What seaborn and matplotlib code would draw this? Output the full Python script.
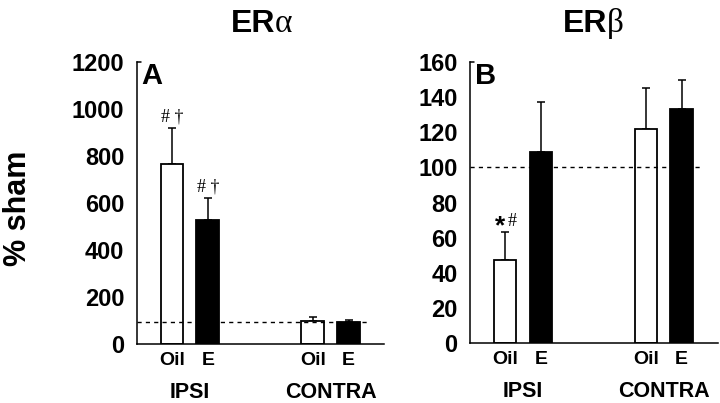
import matplotlib
matplotlib.use("Agg")
import matplotlib.pyplot as plt
import matplotlib.transforms as mtransforms
import pandas as pd
import seaborn as sns

# ---- data ----
sides = ["IPSI", "IPSI", "CONTRA", "CONTRA"]
treatments = ["Oil", "E", "Oil", "E"]
era_mean = [765, 528, 100, 95]
era_err = [153, 93, 15, 9]
erb_mean = [47, 109, 122, 133]
erb_err = [16, 28, 23, 17]
sham_line_a = 93
sham_line_b = 100
annot_a = ["# \u2020", "# \u2020", "", ""]

sns.set_theme(style="ticks")
plt.rcParams["font.family"] = ["Liberation Sans", "DejaVu Sans"]
plt.rcParams["font.weight"] = "bold"
plt.rcParams["text.color"] = "black"
plt.rcParams["xtick.labelcolor"] = "black"
plt.rcParams["ytick.labelcolor"] = "black"


def draw_panel(ax, means, errs, ymax, ystep, sham, letter, xright):
    df = pd.DataFrame({"side": sides, "treatment": treatments, "value": means})
    sns.barplot(
        data=df, x="side", y="value", hue="treatment",
        order=["IPSI", "CONTRA"], hue_order=["Oil", "E"],
        palette={"Oil": "white", "E": "black"},
        edgecolor="black", linewidth=1.3, width=0.51, gap=0.37,
        errorbar=None, legend=False, ax=ax,
    )
    bars = sorted([p for p in ax.patches if p.get_height() > 0], key=lambda p: p.get_x())
    xs = [p.get_x() + p.get_width() / 2 for p in bars]
    ax.errorbar(xs, means, yerr=[[0] * len(errs), errs], fmt="none",
                ecolor="black", elinewidth=1.1, capsize=3, capthick=1.1, zorder=1)
    for p in bars:
        p.set_zorder(2)

    ax.set_xlim(-0.376, xright)
    ax.set_ylim(0, ymax)
    ax.set_yticks(range(0, ymax + 1, ystep))
    ax.tick_params(axis="y", length=0, pad=9, labelsize=17, labelcolor="black")
    ax.set_xticks(xs)
    ax.set_xticklabels(treatments, fontsize=14, fontweight="bold")
    ax.tick_params(axis="x", length=0, pad=6, labelcolor="black")
    for lab in ax.get_yticklabels():
        lab.set_fontweight("bold")
    ax.set_xlabel("")
    ax.set_ylabel("")
    sns.despine(ax=ax)
    for s in ["left", "bottom"]:
        ax.spines[s].set_linewidth(1.1)
        ax.spines[s].set_color("black")

    ax.axhline(sham, xmin=0, xmax=0.94, color="black", linestyle=(0, (3, 3)), linewidth=1.0, zorder=3)
    ax.axhline(ymax, xmin=0, xmax=0.015, color="black", linewidth=1.1, clip_on=False)

    trans = mtransforms.blended_transform_factory(ax.transData, ax.transAxes)
    ax.text(0, -0.172, "IPSI", transform=trans, ha="center", va="center", fontsize=15.5, fontweight="bold")
    ax.text(1, -0.172, "CONTRA", transform=trans, ha="center", va="center", fontsize=15.5, fontweight="bold")
    ax.text(0.02, 1.0, letter, transform=ax.transAxes, ha="left", va="top", fontsize=21, fontweight="bold")
    return xs


fig = plt.figure(figsize=(7.2, 4.03), dpi=100)
ax_a = fig.add_axes([0.190, 0.146, 0.343, 0.700])
ax_b = fig.add_axes([0.653, 0.149, 0.344, 0.697])

xs_a = draw_panel(ax_a, era_mean, era_err, 1200, 200, sham_line_a, "A", 1.376)
xs_b = draw_panel(ax_b, erb_mean, erb_err, 160, 20, sham_line_b, "B", 1.384)

for x, m, e, t in zip(xs_a, era_mean, era_err, annot_a):
    if t:
        ax_a.annotate(t, (x, m + e), xytext=(0, 2), textcoords="offset points",
                      ha="center", va="bottom", fontsize=13, fontweight="normal",
                      family=["Liberation Serif", "DejaVu Serif"])

ax_b.annotate("*", (xs_b[0], erb_mean[0] + erb_err[0]), xytext=(0, -4), textcoords="offset points",
              ha="right", va="bottom", fontsize=19, fontweight="bold")
ax_b.annotate("#", (xs_b[0], erb_mean[0] + erb_err[0]), xytext=(2, 2), textcoords="offset points",
              ha="left", va="bottom", fontsize=13, fontweight="normal",
              family=["Liberation Serif", "DejaVu Serif"])

# titles: bold "ER" plus a plain greek letter
for cx, greek in [(264, "\u03b1"), (596, "\u03b2")]:
    split = (cx + 11) / 720
    fig.text(split, 1 - 32 / 403, "ER", ha="right", va="baseline", fontsize=23, fontweight="bold")
    fig.text(split, 1 - 32 / 403, greek, ha="left", va="baseline", fontsize=24, fontweight="normal",
             family=["Liberation Serif", "DejaVu Serif"])

fig.text(18 / 720, 1 - 208 / 403, "% sham", rotation=90, ha="center", va="center",
         fontsize=22, fontweight="bold")

fig.savefig("out.png", dpi=100)
